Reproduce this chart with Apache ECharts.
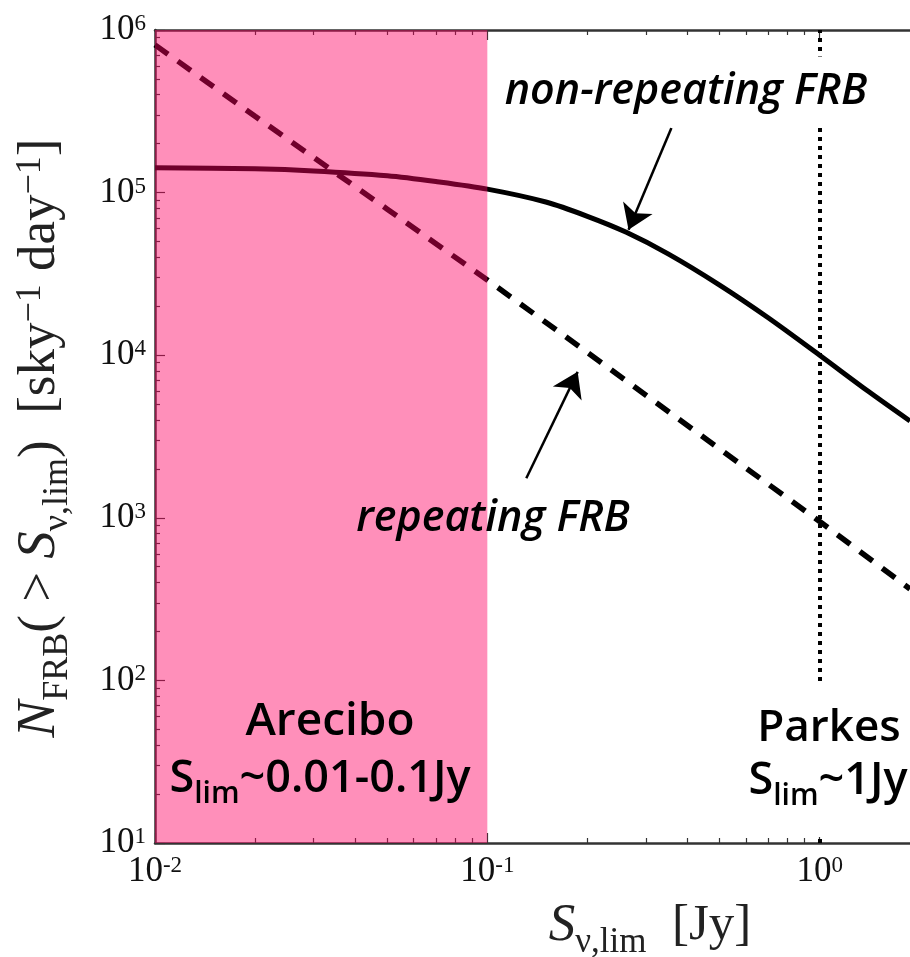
<!DOCTYPE html>
<html>
<head>
<meta charset="utf-8">
<script src="https://cdn.jsdelivr.net/npm/echarts@6/dist/echarts.min.js"></script>
<style>
html, body { margin: 0; padding: 0; background: #fff; }
#chart { width: 910px; height: 957px; }
</style>
</head>
<body>
<div id="chart"></div>
<script>
// flux limit S [Jy] and cumulative rate N(>S) [sky^-1 day^-1]
const sNonRep = [0.01, 0.02, 0.03, 0.05, 0.07, 0.1, 0.15, 0.2, 0.262, 0.35, 0.5, 0.7, 1.0, 1.4, 1.87];
const nNonRep = [1.42e5, 1.40e5, 1.36e5, 1.27e5, 1.17e5, 1.05e5, 8.75e4, 7.15e4, 5.7e4, 4.2e4, 2.7e4, 1.7e4, 1.0e4, 6.0e3, 3.94e3];
const sRep = [0.01, 0.02, 0.05, 0.1, 0.2, 0.5, 1.0, 1.87];
const nRep = [8.1e5, 2.95e5, 7.9e4, 2.9e4, 1.04e4, 2.65e3, 950, 365];

// Arecibo band and Parkes limit
const areciboS = [0.01, 0.1];
const areciboTop = 1e6;
const parkesS = 1;

// axes
const xMin = 0.01, xMax = 1.87;
const yMin = 10, yMax = 1e6;
const xMajor = [0.01, 0.1, 1];
const xMinor = [0.02, 0.03, 0.04, 0.05, 0.06, 0.07, 0.08, 0.09, 0.2, 0.3, 0.4, 0.5, 0.6, 0.7, 0.8, 0.9];
const yMajor = [10, 100, 1000, 1e4, 1e5, 1e6];
const yMinor = [20, 30, 40, 50, 60, 70, 80, 90, 200, 300, 400, 500, 600, 700, 800, 900,
  2e3, 3e3, 4e3, 5e3, 6e3, 7e3, 8e3, 9e3, 2e4, 3e4, 4e4, 5e4, 6e4, 7e4, 8e4, 9e4,
  2e5, 3e5, 4e5, 5e5, 6e5, 7e5, 8e5, 9e5];

// arrows: [tail, head]
const arrowNonRep = [[0.358, 2.5e5], [0.266, 5.9e4]];
const arrowRep = [[0.131, 1750], [0.187, 7.9e3]];

const serif = '"Liberation Serif", "DejaVu Serif", serif';
const sans = '"Open Sans", Lato, sans-serif';
const ink = '#111';

function powLabel(v) {
    const e = Math.log10(v);
    if (Math.abs(e - Math.round(e)) > 1e-6) return '';
    return '{b|10}{s|' + Math.round(e) + '}';
}
const tickRich = {
    b: { fontFamily: serif, fontSize: 35, color: ink },
    s: { fontFamily: serif, fontSize: 23, color: ink, verticalAlign: 'top' }
};

const gridBox = { left: 155, top: 30, right: 0, bottom: 114, containLabel: false };

function logX(grid, pos, ticks, len, withLine, withLabel) {
    return {
        type: 'log', logBase: 10, min: xMin, max: xMax, gridIndex: grid, position: pos,
        axisLine: { show: withLine, lineStyle: { color: '#333', width: 2.5 } },
        axisTick: { show: true, inside: true, length: len, customValues: ticks, lineStyle: { color: '#333', width: 1.2 } },
        axisLabel: { show: withLabel, customValues: ticks, formatter: powLabel, rich: tickRich, margin: 11 },
        splitLine: { show: false }, minorTick: { show: false }
    };
}
function logY(grid, ticks, len, withLine, withLabel) {
    return {
        type: 'log', logBase: 10, min: yMin, max: yMax, gridIndex: grid, position: 'left',
        axisLine: { show: withLine, lineStyle: { color: '#333', width: 2.5 } },
        axisTick: { show: true, inside: true, length: len, customValues: ticks, lineStyle: { color: '#333', width: 1.2 } },
        axisLabel: { show: withLabel, customValues: ticks, formatter: powLabel, rich: tickRich, margin: 9 },
        splitLine: { show: false }, minorTick: { show: false }
    };
}

const chart = echarts.init(document.getElementById('chart'), null, { renderer: 'canvas' });

const bigLabel = { fill: '#000', align: 'center', verticalAlign: 'middle', fontFamily: sans, fontSize: 44, fontWeight: 600 };
const slimRich = {
    m: { fontFamily: sans, fontSize: 45, fontWeight: 600, fill: '#000' },
    sb: { fontFamily: sans, fontSize: 30, fontWeight: 600, fill: '#000', verticalAlign: 'bottom', padding: [0, 0, -8, 0] }
};
const mathRich = {
    i: { fontFamily: serif, fontSize: 53, fontStyle: 'italic', fill: '#222' },
    n: { fontFamily: serif, fontSize: 51, fill: '#222' },
    sb: { fontFamily: serif, fontSize: 35, fill: '#222', verticalAlign: 'bottom', padding: [0, 0, -8, 0] },
    sp: { fontFamily: serif, fontSize: 35, fill: '#222', verticalAlign: 'top' }
};
const yTitleRich = {
    i: { fontFamily: serif, fontSize: 55, fontStyle: 'italic', fill: '#222' },
    n: { fontFamily: serif, fontSize: 53, fill: '#222' },
    sb: { fontFamily: serif, fontSize: 36, fill: '#222', verticalAlign: 'bottom', padding: [0, 0, -8, 0] },
    sp: { fontFamily: serif, fontSize: 36, fill: '#222', verticalAlign: 'top' }
};

const option = {
    animation: false,
    backgroundColor: '#fff',
    grid: [gridBox, gridBox],
    xAxis: [
        logX(0, 'bottom', xMajor, 10, true, true),
        logX(0, 'top', xMajor, 10, true, false),
        logX(1, 'bottom', xMinor, 5, false, false),
        logX(1, 'top', xMinor, 5, false, false)
    ],
    yAxis: [
        logY(0, yMajor, 10, true, true),
        logY(1, yMinor, 5, false, false)
    ],
    series: [
        {
            name: 'non-repeating FRB', type: 'line', xAxisIndex: 0, yAxisIndex: 0,
            data: sNonRep.map((s, i) => [s, nNonRep[i]]),
            smooth: 0.3, showSymbol: false, symbol: 'none', z: 2,
            lineStyle: { color: '#000', width: 5 }
        },
        {
            name: 'repeating FRB', type: 'line', xAxisIndex: 0, yAxisIndex: 0,
            data: sRep.map((s, i) => [s, nRep[i]]),
            smooth: false, showSymbol: false, symbol: 'none', z: 2,
            lineStyle: { color: '#000', width: 5.5, type: [16, 12] }
        },
        {
            // Arecibo band, drawn over the curves so they show through in maroon
            name: 'Arecibo', type: 'line', xAxisIndex: 0, yAxisIndex: 0,
            data: areciboS.map(s => [s, areciboTop]),
            showSymbol: false, symbol: 'none', z: 4,
            lineStyle: { width: 0 },
            areaStyle: { origin: 'start', color: 'rgba(255,0,97,0.44)', opacity: 1 }
        },
        {
            name: 'marks', type: 'line', xAxisIndex: 0, yAxisIndex: 0, data: [], z: 3,
            markLine: {
                silent: true, animation: false,
                symbol: ['none', 'none'],
                label: { show: false },
                data: [
                    { xAxis: parkesS, lineStyle: { color: '#000', width: 4, type: [4, 5] } },
                    [
                        { coord: arrowNonRep[0], symbol: 'none' },
                        { coord: arrowNonRep[1], symbol: 'arrow', symbolSize: 24 }
                    ],
                    [
                        { coord: arrowRep[0], symbol: 'none' },
                        { coord: arrowRep[1], symbol: 'arrow', symbolSize: 24 }
                    ]
                ],
                lineStyle: { color: '#000', width: 2.5, type: 'solid' }
            }
        }
    ],
    graphic: [
        {
            type: 'text', x: 686, y: 92, z: 100,
            style: Object.assign({}, bigLabel, {
                text: 'non-repeating FRB', fontSize: 43, fontStyle: 'italic',
                backgroundColor: '#fff', padding: [14, 4, 14, 4]
            })
        },
        {
            type: 'text', x: 493, y: 519, z: 100,
            style: Object.assign({}, bigLabel, { text: 'repeating FRB', fontSize: 43, fontStyle: 'italic' })
        },
        {
            type: 'rect', z: 99, shape: { x: 745, y: 685, width: 165, height: 152 },
            style: { fill: '#fff' }
        },
        {
            type: 'text', x: 330, y: 722, z: 100,
            style: Object.assign({}, bigLabel, { text: 'Arecibo', fontSize: 46 })
        },
        {
            type: 'text', x: 320, y: 779, z: 100,
            style: { text: '{m|S}{sb|lim}{m|~0.01-0.1Jy}', align: 'center', verticalAlign: 'middle', rich: slimRich }
        },
        {
            type: 'text', x: 829, y: 728, z: 100,
            style: Object.assign({}, bigLabel, { text: 'Parkes' })
        },
        {
            type: 'text', x: 828, y: 781, z: 100,
            style: { text: '{m|S}{sb|lim}{m|~1Jy}', align: 'center', verticalAlign: 'middle', rich: slimRich }
        },
        {
            type: 'text', x: 40, y: 438, z: 100, rotation: Math.PI / 2,
            style: {
                text: '{i|N}{sb|FRB}{n|( > }{i|S}{sb|ν,lim}{n|)  [sky}{sp|−1}{n| day}{sp|−1}{n|]}',
                align: 'center', verticalAlign: 'middle', rich: yTitleRich
            }
        },
        {
            type: 'text', x: 650, y: 926, z: 100,
            style: {
                text: '{i|S}{sb|ν,lim}{n|  [Jy]}',
                align: 'center', verticalAlign: 'middle', rich: mathRich
            }
        }
    ]
};

chart.setOption(option);
</script>
</body>
</html>
